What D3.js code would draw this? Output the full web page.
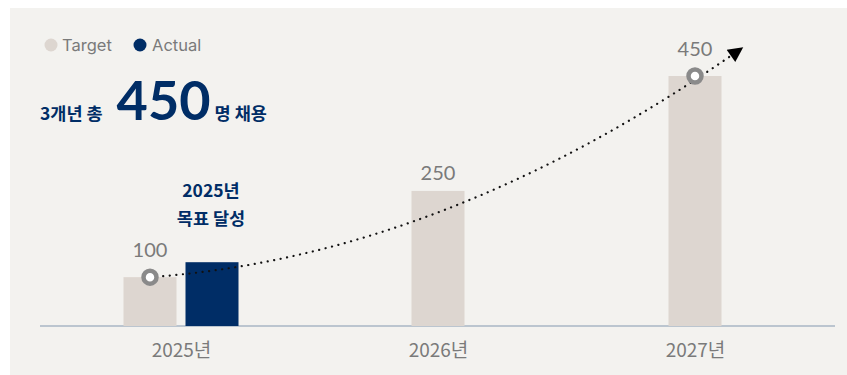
<html>
<head>
<meta charset="utf-8">
<script src="https://cdn.jsdelivr.net/npm/d3@7/dist/d3.min.js"></script>
<style>
  body { margin: 0; background: #fff; }
  text { font-family: Lato, "Noto Sans CJK KR", sans-serif; }
  .kr { font-family: "Noto Sans CJK KR", sans-serif; }
</style>
</head>
<body>
<svg id="chart" width="847" height="375"></svg>
<script>
// data
const years = ['2025년', '2026년', '2027년'];
const target = [100, 250, 450];
const actual = [126, null, null];
const labels = ['100', '250', '450'];
const markerYears = ['2025년', '2027년'];

const navy = '#002d66', beige = '#ddd6d0', grey = '#7a7a7a';

const svg = d3.select('#chart');
svg.append('rect').attr('x', 10).attr('y', 8).attr('width', 837).attr('height', 367).attr('fill', '#f3f2ef');

const x = d3.scalePoint().domain(years).range([181, 695]);
const y = d3.scaleLinear().domain([15, 450]).range([326, 76]);
const barW = 53;

// target x position: shifted left when an actual bar sits next to it
const tx = (d, i) => actual[i] != null ? x(d) - 31 : x(d);

// axis
const ax = svg.append('g').attr('transform', 'translate(0,326)')
  .call(d3.axisBottom(x).tickSize(0).tickPadding(15));
ax.select('.domain').remove();
ax.append('line').attr('x1', 40).attr('x2', 835).attr('stroke', '#a8b6c4').attr('stroke-width', 1.5);
ax.selectAll('.tick text').attr('class', 'kr').attr('font-size', 19).attr('fill', grey).attr('dy', '0.85em');

// target bars
svg.selectAll('.tbar').data(years).enter().append('rect')
  .attr('x', (d, i) => tx(d, i) - barW / 2)
  .attr('y', (d, i) => y(target[i]))
  .attr('width', barW)
  .attr('height', (d, i) => 326 - y(target[i]))
  .attr('fill', beige);

// actual bars
svg.selectAll('.abar').data(years.filter((d, i) => actual[i] != null)).enter().append('rect')
  .attr('x', d => x(d) + 31 - barW / 2)
  .attr('y', d => y(actual[years.indexOf(d)]))
  .attr('width', barW)
  .attr('height', d => 326 - y(actual[years.indexOf(d)]))
  .attr('fill', navy);

// value labels
svg.selectAll('.vl').data(years).enter().append('text')
  .attr('x', (d, i) => tx(d, i))
  .attr('y', (d, i) => y(target[i]) - (markerYears.includes(d) ? 20 : 11))
  .attr('text-anchor', 'middle')
  .attr('font-size', 20)
  .attr('fill', grey)
  .text((d, i) => labels[i]);

// trend arrow
svg.append('defs').append('marker')
  .attr('id', 'arr').attr('viewBox', '0 0 10 10').attr('refX', 9).attr('refY', 5)
  .attr('markerWidth', 19).attr('markerHeight', 15).attr('markerUnits', 'userSpaceOnUse')
  .attr('orient', 'auto')
  .append('path').attr('d', 'M0,0 L10,5 L0,10 Z').attr('fill', '#000');

const p0 = [tx(years[0], 0), y(target[0])];
const p2 = [742, 48];
const p1 = [(p0[0] + p2[0]) / 2, p0[1] - 21];
svg.append('path')
  .attr('d', `M${p0[0]},${p0[1]} Q${p1[0]},${p1[1]} ${p2[0]},${p2[1]}`)
  .attr('fill', 'none').attr('stroke', '#111').attr('stroke-width', 2.2)
  .attr('stroke-dasharray', '0.1 6.5').attr('stroke-linecap', 'round')
  .attr('marker-end', 'url(#arr)');

// ring markers
svg.selectAll('.ring').data(markerYears).enter().append('circle')
  .attr('cx', d => tx(d, years.indexOf(d)))
  .attr('cy', d => y(target[years.indexOf(d)]))
  .attr('r', 6.5)
  .attr('fill', '#fff').attr('stroke', '#8a8a8a').attr('stroke-width', 4.5);

// legend
const lg = svg.append('g');
[['Target', beige, 51, 62], ['Actual', navy, 140, 152]].forEach(([t, c, cx, tx2]) => {
  lg.append('circle').attr('cx', cx).attr('cy', 45).attr('r', 6.5).attr('fill', c);
  lg.append('text').attr('x', tx2).attr('y', 51).attr('font-size', 16.5).attr('fill', grey)
    .style('font-family', 'Inter, sans-serif').text(t);
});

// headline
const h = svg.append('text').attr('x', 40).attr('y', 120).attr('fill', navy).attr('font-weight', 'bold').attr('class', 'kr');
h.append('tspan').attr('font-size', 17.5).text('3개년 총');
h.append('tspan').attr('font-size', 54).attr('dx', 14).style('font-family', 'Lato, sans-serif').text('450');
h.append('tspan').attr('font-size', 17.5).attr('dx', 4).text('명 채용');

// annotation
const an = svg.append('text').attr('x', 211).attr('text-anchor', 'middle').attr('fill', navy)
  .attr('font-weight', 'bold').attr('font-size', 17.5).attr('class', 'kr');
an.append('tspan').attr('x', 211).attr('y', 197).text('2025년');
an.append('tspan').attr('x', 211).attr('y', 225).text('목표 달성');
</script>
</body>
</html>
